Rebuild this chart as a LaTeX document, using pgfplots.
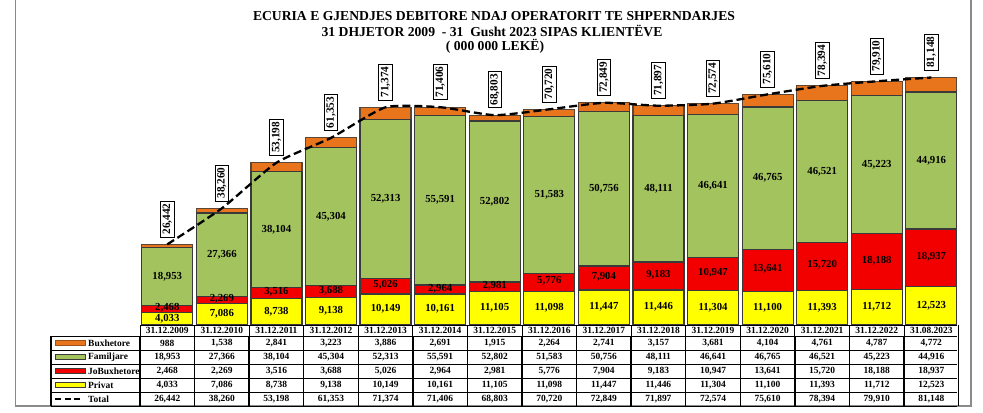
\documentclass[border=0pt]{standalone}
\usepackage{pgfplots}
\pgfplotsset{compat=1.18}
\usepackage{pgfplotstable}
\usepackage{fontspec}
\setmainfont{Liberation Serif}
\definecolor{cP}{HTML}{FFFF00}
\definecolor{cR}{HTML}{F20000}
\definecolor{cF}{HTML}{A3C35F}
\definecolor{cB}{HTML}{E8741C}
\definecolor{edge}{HTML}{3A3A3A}
\definecolor{frame}{HTML}{8A8A8A}

\pgfplotstableread{
x date P R F B T
0 31.12.2009 4033 2468 18953 988 26442
1 31.12.2010 7086 2269 27366 1538 38260
2 31.12.2011 8738 3516 38104 2841 53198
3 31.12.2012 9138 3688 45304 3223 61353
4 31.12.2013 10149 5026 52313 3886 71374
5 31.12.2014 10161 2964 55591 2691 71406
6 31.12.2015 11105 2981 52802 1915 68803
7 31.12.2016 11098 5776 51583 2264 70720
8 31.12.2017 11447 7904 50756 2741 72849
9 31.12.2018 11446 9183 48111 3157 71897
10 31.12.2019 11304 10947 46641 3681 72574
11 31.12.2020 11100 13641 46765 4104 75610
12 31.12.2021 11393 15720 46521 4761 78394
13 31.12.2022 11712 18188 45223 4787 79910
14 31.08.2023 12523 18937 44916 4772 81148
}\data

\pgfplotsset{
  base/.style={
    scale only axis, width=818.6bp, height=268.4bp,
    at={(140bp,87bp)}, anchor=south west,
    xmin=-0.5, xmax=14.5, ymin=0, ymax=88000,
    hide axis, clip=false,
    /pgf/number format/.cd, 1000 sep={,}, fixed, precision=0, assume math mode=true,
  },
  lab/.style={draw=none, mark=none, forget plot,
    nodes near coords, point meta=explicit, nodes near coords align=center,
    every node near coord/.append style={anchor=center, inner sep=0pt, text=black, font=\bfseries\fontsize{10.8}{12}\selectfont}},
  tlab/.style={draw=none, mark=none, forget plot,
    nodes near coords, point meta=explicit, nodes near coords align=center,
    every node near coord/.append style={anchor=center, inner sep=0pt, text=black, font=\bfseries\fontsize{9.5}{10}\selectfont}},
  symlab/.style={draw=none, mark=none, forget plot,
    nodes near coords, point meta=explicit symbolic, nodes near coords align=center,
    every node near coord/.append style={anchor=center, inner sep=0pt, text=black, font=\bfseries\fontsize{9.5}{10}\selectfont}},
}

\begin{document}
\begin{tikzpicture}[x=1bp,y=1bp]
\useasboundingbox (0,0) rectangle (983,412);
% outer frame
\draw[frame, line width=1.6bp] (15.5,412) -- (15.5,6) -- (971,6) -- (971,412);
% title
\node[font=\bfseries\fontsize{13.7}{15}\selectfont] at (494,396) {ECURIA E GJENDJES DEBITORE NDAJ OPERATORIT TE SHPERNDARJES};
\node[font=\bfseries\fontsize{13.7}{15}\selectfont] at (492,381) {31 DHJETOR 2009\ \ - 31\ \ Gusht 2023 SIPAS KLIENTËVE};
\node[font=\bfseries\fontsize{13.7}{15}\selectfont] at (495,366) {( 000 000 LEKË)};

% bars
\begin{axis}[base, ybar stacked, bar width=51bp]
\addplot[fill=cP, draw=edge, line width=1.2bp] table[x=x, y=P] {\data};
\addplot[fill=cR, draw=edge, line width=1.2bp] table[x=x, y=R] {\data};
\addplot[fill=cF, draw=edge, line width=1.2bp] table[x=x, y=F] {\data};
\addplot[fill=cB, draw=edge!80!cB, line width=1.2bp] table[x=x, y=B] {\data};
\end{axis}

% labels, total line, table texts
\begin{axis}[base]
\addplot[lab, every node near coord/.append style={yshift=0.3bp}] table[x=x, y expr=\thisrow{P}/2, meta=P] {\data};
\addplot[lab, every node near coord/.append style={yshift=1.2bp}] table[x=x, y expr=\thisrow{P}+\thisrow{R}/2, meta=R] {\data};
\addplot[lab] table[x=x, y expr=\thisrow{P}+\thisrow{R}+\thisrow{F}/2, meta=F] {\data};
\addplot[black, line width=2.3bp, dash pattern=on 8bp off 4bp, smooth, tension=0.35, mark=none] table[x=x, y=T] {\data};
\addplot[lab, every node near coord/.append style={rotate=90, draw=black, line width=0.8bp, fill=white, inner xsep=2.5bp, inner ysep=2.2bp, font=\bfseries\fontsize{11.3}{12}\selectfont}] table[x=x, y expr=\thisrow{T}+8300, meta=T] {\data};
% table rows
\addplot[symlab] table[x=x, y expr=-1639, meta=date] {\data};
\addplot[tlab] table[x=x, y expr=-5902, meta=B] {\data};
\addplot[tlab] table[x=x, y expr=-10492, meta=F] {\data};
\addplot[tlab] table[x=x, y expr=-15082, meta=R] {\data};
\addplot[tlab] table[x=x, y expr=-19672, meta=P] {\data};
\addplot[tlab] table[x=x, y expr=-24262, meta=T] {\data};
\end{axis}

% table grid
\begin{scope}[line width=0.8bp]
\draw (140,87) -- (957,87);
\draw (140,76) -- (957,76);
\draw (51,76) -- (140,76);
\foreach \yy in {62,48,34,20,6} \draw (51,\yy) -- (957,\yy);
\foreach \k in {0,...,15} {
  \pgfmathsetmacro{\xx}{140+54.573*\k}
  \draw (\xx,87) -- (\xx,76);
  \draw[line width=1.4bp] (\xx,76) -- (\xx,6);
}
\draw[line width=1.2bp] (51,76) -- (51,6);
\end{scope}
% legend keys
\begin{scope}[font=\bfseries\fontsize{9.5}{10}\selectfont]
\filldraw[fill=cB, draw=cB!70!black, line width=0.7bp] (55,66.8) rectangle (85,71.2);
\node[anchor=west, inner sep=0pt] at (88,69) {Buxhetore};
\filldraw[fill=cF, draw=edge, line width=0.9bp] (55,52.8) rectangle (85,57.2);
\node[anchor=west, inner sep=0pt] at (88,55) {Familjare};
\filldraw[fill=cR, draw=edge, line width=0.9bp] (55,38.8) rectangle (85,43.2);
\node[anchor=west, inner sep=0pt] at (88,41) {JoBuxhetore};
\filldraw[fill=cP, draw=edge, line width=0.9bp] (55,24.8) rectangle (85,29.2);
\node[anchor=west, inner sep=0pt] at (88,27) {Privat};
\draw[line width=2bp, dash pattern=on 6bp off 3.5bp] (55,13) -- (83,13);
\node[anchor=west, inner sep=0pt] at (88,13) {Total};
\end{scope}
\end{tikzpicture}
\end{document}
